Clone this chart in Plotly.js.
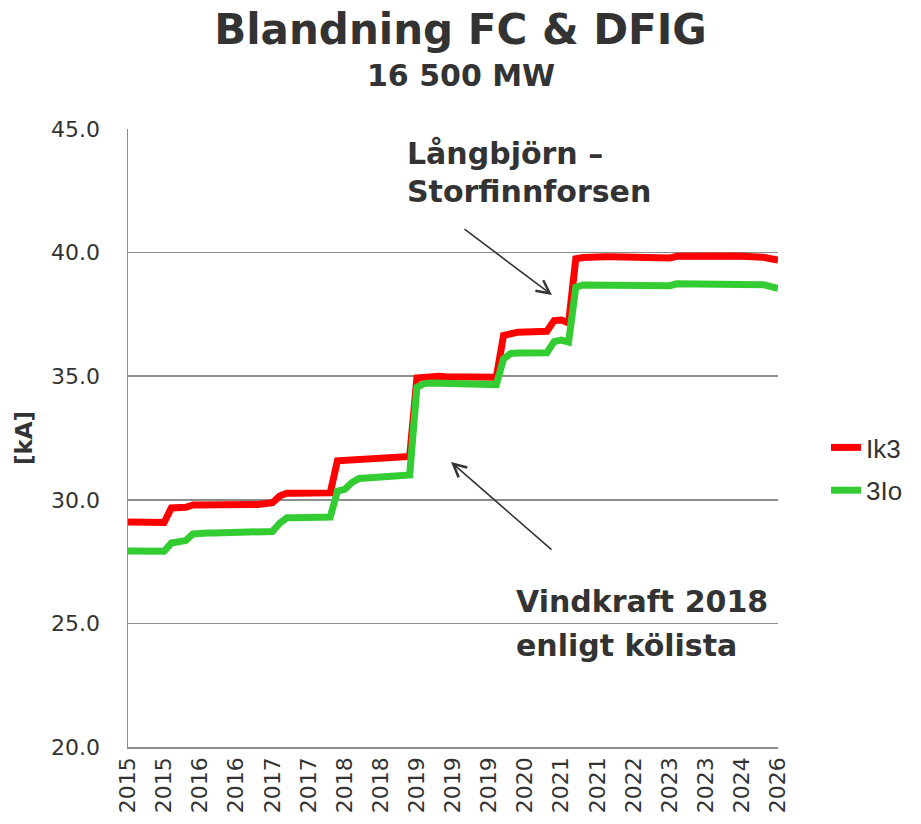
<!DOCTYPE html>
<html>
<head>
<meta charset="utf-8">
<script src="https://cdn.plot.ly/plotly-3.0.1.min.js"></script>
<style>html,body{margin:0;padding:0;background:#fff;}#chart{width:921px;height:824px;}</style>
</head>
<body>
<div id="chart"></div>
<script>
// ---- data ----
const tickLabels = ["2015","2015","2016","2016","2017","2017","2018","2018","2019","2019","2019","2020","2021","2021","2022","2023","2023","2024","2026"];
const seriesNames = ["Ik3", "3Io"];
const ik3 = [
  29.10,29.10,29.10,29.08,29.08,29.08,29.67,29.67,29.70,29.79,
  29.80,29.80,29.80,29.80,29.80,29.80,29.81,29.81,29.81,29.83,
  29.88,30.15,30.27,30.27,30.27,30.27,30.27,30.27,30.28,31.58,
  31.60,31.62,31.63,31.65,31.66,31.72,31.73,31.73,31.74,31.75,
  34.93,34.97,35.00,35.00,34.98,34.97,34.96,34.96,34.96,34.96,
  34.96,34.96,36.65,36.75,36.78,36.79,36.80,36.80,36.82,37.25,
  37.27,37.15,39.75,39.80,39.83,39.83,39.83,39.83,39.83,39.83,
  39.82,39.77,39.77,39.77,39.77,39.78,39.85,39.86,39.86,39.86,
  39.86,39.86,39.86,39.86,39.86,39.85,39.85,39.84,39.81,39.75,
  39.70
];
const io3 = [
  27.93,27.93,27.92,27.92,27.92,27.92,28.25,28.30,28.35,28.62,
  28.66,28.66,28.66,28.66,28.66,28.66,28.66,28.66,28.66,28.68,
  28.72,29.05,29.27,29.27,29.28,29.28,29.28,29.29,29.30,30.35,
  30.42,30.70,30.86,30.88,30.90,30.95,31.00,31.00,31.00,31.00,
  34.55,34.70,34.72,34.72,34.70,34.66,34.65,34.65,34.65,34.65,
  34.65,34.66,35.70,35.92,35.94,35.94,35.94,35.94,35.95,36.40,
  36.46,36.38,38.60,38.69,38.69,38.69,38.69,38.69,38.69,38.69,
  38.69,38.66,38.66,38.66,38.66,38.66,38.74,38.74,38.74,38.74,
  38.74,38.74,38.74,38.74,38.74,38.74,38.74,38.74,38.70,38.62,
  38.56
];

// ---- build ----
const idx = ik3.map((_, i) => i);
const step = (ik3.length - 1) / (tickLabels.length - 1);
const tickVals = tickLabels.map((_, i) => i * step);

const W = 921, H = 824, L = 128, R = 778, T = 129, B = 747;
const px = x => (x - L) / (R - L);
const py = y => (B - y) / (B - T);

const textColor = '#333333';
const gridColor = '#8c8c8c';
const font = 'DejaVu Sans';

const traces = [
  {x: idx, y: ik3, name: seriesNames[0], type: 'scatter', mode: 'lines',
   line: {color: '#ff0000', width: 7}, legendgroup: 'a'},
  {x: idx, y: io3, name: seriesNames[1], type: 'scatter', mode: 'lines',
   line: {color: '#33cc33', width: 7}, legendgroup: 'b'}
];

const annText = (t, x, y, size) => ({
  text: '<b>' + t + '</b>', xref: 'paper', yref: 'paper', x: px(x), y: py(y),
  xanchor: 'left', yanchor: 'middle', showarrow: false,
  font: {family: font, size: size, color: textColor}
});
const annArrow = (hx, hy, tx, ty) => ({
  text: '', xref: 'paper', yref: 'paper', x: px(hx), y: py(hy),
  ax: tx - hx, ay: ty - hy, showarrow: true, arrowhead: 5, arrowsize: 1.6,
  arrowwidth: 1.6, arrowcolor: '#333333'
});

const layout = {
  width: W, height: H,
  margin: {l: L, r: W - R, t: T, b: H - B, pad: 0},
  paper_bgcolor: '#ffffff', plot_bgcolor: '#ffffff',
  font: {family: font, color: textColor},
  title: {text: '<b>Blandning FC & DFIG</b>', x: 0.5, xref: 'container', xanchor: 'center',
          y: 1 - 29 / H, yref: 'container', yanchor: 'middle',
          font: {family: font, size: 42, color: textColor}},
  xaxis: {
    range: [0, ik3.length - 1], tickmode: 'array', tickvals: tickVals, ticktext: tickLabels,
    tickangle: -90, tickfont: {family: font, size: 22, color: textColor},
    showgrid: false, zeroline: false, showline: true, linecolor: gridColor, linewidth: 1.5,
    ticks: '', automargin: false, fixedrange: true
  },
  yaxis: {
    range: [20, 45], dtick: 5, tick0: 20, tickformat: '.1f',
    tickfont: {family: font, size: 22, color: textColor},
    showgrid: true, gridcolor: gridColor, gridwidth: 1.5,
    zeroline: false, showline: true, linecolor: gridColor, linewidth: 1.5,
    ticks: '', ticklabelstandoff: 22, automargin: false,
    title: {text: '<b>[kA]</b>', font: {family: font, size: 23, color: textColor}, standoff: 12}
  },
  legend: {
    x: px(826), y: py(469), xanchor: 'left', yanchor: 'middle',
    font: {family: 'Liberation Sans', size: 26, color: textColor},
    tracegroupgap: 6, traceorder: 'grouped', bgcolor: 'rgba(0,0,0,0)'
  },
  showlegend: true,
  annotations: [
    {text: '<b>16 500 MW</b>', xref: 'paper', yref: 'paper', x: px(461), y: py(75),
     xanchor: 'center', yanchor: 'middle', showarrow: false,
     font: {family: font, size: 30, color: textColor}},
    annText('Långbjörn –', 405, 153, 30),
    annText('Storfinnforsen', 405, 192, 30),
    annText('Vindkraft 2018', 514, 601, 30),
    annText('enligt kölista', 514, 645, 30),
    annArrow(552, 295, 463, 228),
    annArrow(451, 462, 553, 551)
  ]
};

Plotly.newPlot('chart', traces, layout, {displayModeBar: false, staticPlot: true});
</script>
</body>
</html>
